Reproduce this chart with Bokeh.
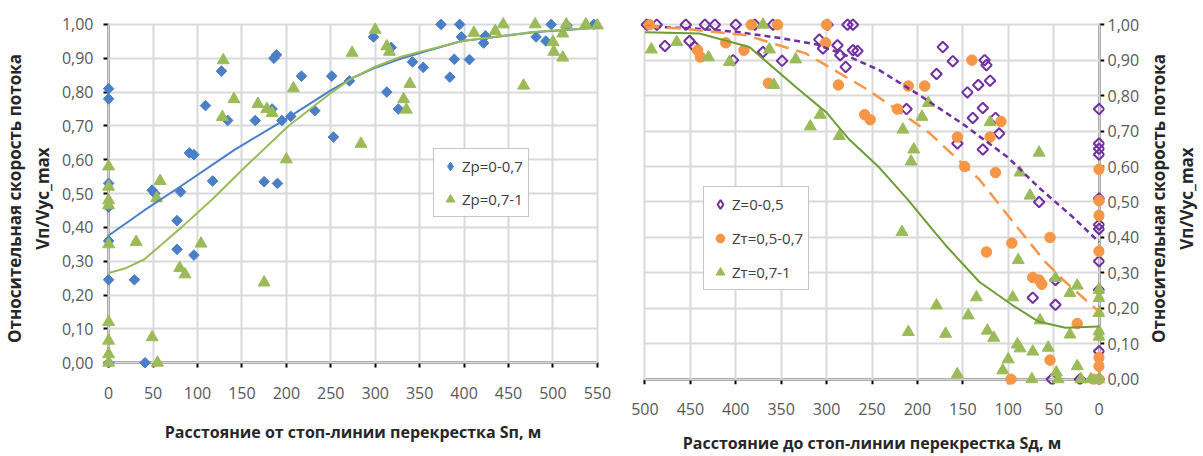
import math
import numpy as np
from bokeh.plotting import figure
from bokeh.models import (Range1d, FixedTicker, CustomJSTickFormatter, Legend, LegendItem,
                          LinearAxis, ColumnDataSource)
from bokeh.layouts import row
from bokeh.embed import file_html
from bokeh.resources import INLINE

# ---------------- data: left chart (distance from stop line, Sп) ----------------
x_ticks_left = [0, 50, 100, 150, 200, 250, 300, 350, 400, 450, 500, 550]
x_ticks_right = [0, 50, 100, 150, 200, 250, 300, 350, 400, 450, 500]
y_ticks = [0.0, 0.1, 0.2, 0.3, 0.4, 0.5, 0.6, 0.7, 0.8, 0.9, 1.0]

blue_label = "Zp=0-0,7"
blue_x = [0, 0, 0, 0, 0, 0, 0, 29, 41, 49, 52, 77, 77, 81, 91, 96, 96,
          109, 117, 127, 134, 165, 175, 190, 186, 189, 184,
          195, 205, 217, 232, 251, 253, 271, 298, 318, 313,
          326, 342, 354, 374, 395, 397, 389, 406, 384, 422,
          424, 481, 492, 498, 516, 546]
blue_y = [0.81, 0.78, 0.53, 0.46, 0.36, 0.245, 0.0,
          0.245, 0.0, 0.51, 0.50, 0.42, 0.335, 0.505, 0.62, 0.615, 0.318,
          0.76, 0.537, 0.862, 0.716, 0.716, 0.535, 0.53, 0.90, 0.91, 0.75,
          0.716, 0.728, 0.847, 0.745, 0.847, 0.667, 0.833, 0.963, 0.932, 0.80,
          0.75, 0.889, 0.873, 1.0, 1.0, 0.963, 0.897, 0.896, 0.844, 0.945,
          0.966, 0.963, 0.951, 1.0, 0.997, 1.0]

greenL_label = "Zp=0,7-1"
greenL_x = [0, 0, 0, 0, 0, 0, 0, 0, 0,
            31, 49, 55, 54, 58, 80, 86, 104, 128, 129,
            141, 168, 175, 178, 184, 200, 208, 274, 284, 300,
            313, 316, 332, 335, 339, 411, 435, 444, 467, 480,
            500, 501, 511, 511, 515, 537, 550]
greenL_y = [0.58, 0.52, 0.48, 0.465, 0.35, 0.12, 0.065, 0.025, 0.0,
            0.357, 0.075, 0.0, 0.486, 0.537, 0.28, 0.261, 0.352, 0.726, 0.894,
            0.779, 0.765, 0.237, 0.75, 0.738, 0.601, 0.811, 0.916, 0.647, 0.984,
            0.935, 0.919, 0.779, 0.748, 0.824, 0.975, 0.98, 1.0, 0.819, 1.0,
            0.948, 0.919, 0.973, 0.902, 1.0, 1.0, 0.997]

# trend lines
blue_trend_x = [0, 40, 82, 142, 198, 250, 273, 300, 330, 396, 478, 550]
blue_trend_y = [0.376, 0.45, 0.523, 0.63, 0.718, 0.805, 0.84, 0.872, 0.90, 0.95, 0.977, 0.99]
greenL_trend_x = [0, 20, 40, 60, 82, 117, 151, 202, 250, 273, 300, 330, 400, 480, 550]
greenL_trend_y = [0.265, 0.28, 0.305, 0.35, 0.40, 0.484, 0.572, 0.699, 0.797, 0.84, 0.875, 0.905, 0.952, 0.978, 0.99]

# ---------------- data: right chart (distance to stop line, Sд) ----------------
purple_label = "Z=0-0,5"
purple_x = [498, 487, 455, 434, 423, 400, 379, 359, 299, 277, 271,
            478, 451, 445, 403, 370, 349, 308, 304, 288, 285,
            279, 271, 266, 172, 161, 179, 212, 156, 145, 133,
            126, 124, 120, 139, 128, 114, 110, 128, 66, 73,
            48, 48, 52, 21,
            0, 0, 0, 0, 0, 0, 0, 0, 0, 0, 0]
purple_y = [1, 1, 1, 1, 1, 1, 1, 1, 1, 1, 1,
            0.94, 0.954, 0.937, 0.90, 0.923, 0.898, 0.958, 0.933, 0.942, 0.914,
            0.881, 0.928, 0.926, 0.937, 0.897, 0.861, 0.762, 0.665, 0.809, 0.83,
            0.90, 0.886, 0.842, 0.737, 0.765, 0.737, 0.693, 0.648, 0.50, 0.23,
            0.21, 0.28, 0.0, 0.0,
            0.762, 0.665, 0.65, 0.634, 0.51, 0.436, 0.424, 0.333, 0.252, 0.079, 0.0]

orange_label = "Zт=0,5-0,7"
orange_x = [495, 383, 354, 300,
            442, 439, 411, 391, 364, 301, 287, 258, 252, 222,
            210, 192, 140, 156, 148, 120, 108, 114, 54, 96,
            124, 73, 66, 63, 24, 54, 97, 6,
            0, 0, 0, 0, 0, 0, 0]
orange_y = [1, 1, 1, 1,
            0.928, 0.909, 0.949, 0.928, 0.835, 0.949, 0.83, 0.746, 0.732, 0.762,
            0.827, 0.827, 0.90, 0.683, 0.60, 0.683, 0.727, 0.583, 0.40, 0.384,
            0.359, 0.287, 0.28, 0.268, 0.157, 0.054, 0.0, 0.0,
            0.592, 0.504, 0.462, 0.361, 0.061, 0.037, 0.0]

greenR_label = "Zт=0,7-1"
greenR_x = [493, 465, 430, 407, 370, 363, 358, 334, 307, 318,
            286, 188, 195, 216, 204, 207, 120, 87, 66, 76,
            217, 89, 179, 210, 169, 135, 144, 95, 123, 116,
            65, 90, 87, 73, 56, 100, 106, 156, 74, 47,
            45, 24, 20, 9, 32, 24, 48, 32,
            0, 0, 0, 0, 0, 0]
greenR_y = [0.93, 0.951, 0.908, 0.895, 1.0, 0.93, 0.83, 0.902, 0.746, 0.713,
            0.686, 0.779, 0.74, 0.704, 0.648, 0.614, 0.725, 0.583, 0.639, 0.518,
            0.415, 0.336, 0.208, 0.133, 0.128, 0.231, 0.18, 0.231, 0.137, 0.117,
            0.166, 0.098, 0.087, 0.078, 0.089, 0.056, 0.025, 0.014, 0.0, 0.019,
            0.0, 0.037, 0.0, 0.0, 0.243, 0.264, 0.285, 0.126,
            0.252, 0.229, 0.187, 0.135, 0.12, 0.0]

purple_trend_x = [500, 450, 400, 350, 312, 280, 242, 200, 150, 100, 66, 30, 0]
purple_trend_y = [0.995, 0.99, 0.98, 0.962, 0.945, 0.915, 0.872, 0.805, 0.72, 0.625, 0.54, 0.46, 0.387]
orange_trend_x = [500, 458, 388, 323, 257, 228, 187, 132, 88.5, 59.3, 37.3, 0]
orange_trend_y = [0.995, 0.989, 0.97, 0.919, 0.82, 0.77, 0.695, 0.564, 0.424, 0.331, 0.275, 0.19]
greenR_trend_x = [500, 440, 385, 330, 300, 275, 242, 211, 184, 169, 132, 96, 67, 37, 0]
greenR_trend_y = [0.979, 0.975, 0.937, 0.816, 0.752, 0.676, 0.597, 0.508, 0.424, 0.378, 0.275, 0.21, 0.163, 0.145, 0.149]

y_title = "Относительная скорость потока\nVп/Vус_max"
x_title_left = "Расстояние от стоп-линии перекрестка Sп, м"
x_title_right = "Расстояние до стоп-линии перекрестка Sд, м"

# ---------------- styling ----------------
FONT = "Open Sans"
TICK_C = "#595959"
TITLE_C = "#262626"
GRID_C = "#d9d9d9"
BLUE = "#4a7fc8"
GREEN = "#9bbb59"
GREEN_DARK = "#6e9c35"
ORANGE = "#f79646"
PURPLE = "#7030a0"
XPAD_L = 8
XPAD_R = 6
# both frames share top (12px) and bottom (387px); ranges chosen so the axes sit where the reference has them
YR_LEFT = (-0.0645, 1.0352)
YR_RIGHT = (-0.0148, 1.0344)

fmt = CustomJSTickFormatter(code="return tick.toFixed(2).replace('.', ',');")
blank = CustomJSTickFormatter(code="return '';")


def title_props(ax, title, standoff, size):
    ax.axis_label = title
    ax.axis_label_standoff = standoff
    ax.axis_label_text_font = FONT
    ax.axis_label_text_font_size = size
    ax.axis_label_text_font_style = "bold"
    ax.axis_label_text_color = TITLE_C


def label_axis(ax, standoff, title=None, title_standoff=0, title_size="16px"):
    # side axis: only tick labels (and the title)
    ax.axis_line_color = None
    ax.major_tick_line_color = None
    ax.minor_tick_line_color = None
    ax.major_tick_out = 0
    ax.major_tick_in = 0
    ax.major_label_standoff = standoff
    ax.major_label_text_font = FONT
    ax.major_label_text_font_size = "16px"
    ax.major_label_text_color = TICK_C
    if title is not None:
        title_props(ax, title, title_standoff, title_size)


def line_axis(ticks, bounds):
    # axis line drawn through the data origin; ticks point outward, takes no panel space
    return LinearAxis(fixed_location=0, bounds=bounds, ticker=FixedTicker(ticks=ticks),
                      formatter=blank, major_label_text_font_size="0px",
                      major_label_standoff=0,
                      axis_line_color="black", axis_line_width=2,
                      major_tick_line_color="black", major_tick_line_width=2,
                      major_tick_out=0, major_tick_in=-5, minor_tick_line_color=None,
                      level="underlay")


def setup(p, xticks, xbounds):
    p.outline_line_color = None
    p.background_fill_color = "white"
    p.border_fill_color = "white"
    xa = p.xaxis[0]
    ya = p.yaxis[0]
    xa.ticker = FixedTicker(ticks=xticks)
    ya.ticker = FixedTicker(ticks=y_ticks)
    ya.formatter = fmt
    p.xgrid.ticker = FixedTicker(ticks=xticks)
    p.ygrid.ticker = FixedTicker(ticks=y_ticks)
    p.xgrid[0].bounds = xbounds
    p.ygrid[0].bounds = (0, 1)
    for g in (p.xgrid[0], p.ygrid[0]):
        g.grid_line_color = GRID_C
        g.grid_line_width = 2
    try:
        p.xgrid[0].cross_bounds = (0, 1)
        p.ygrid[0].cross_bounds = xbounds
    except AttributeError:
        pass
    return xa, ya


def make_legend(items, loc, spacing):
    leg = Legend(items=items, location=loc)
    leg.label_text_font = FONT
    leg.label_text_font_size = "15px"
    leg.label_text_color = "#404040"
    leg.glyph_width = 22
    leg.glyph_height = 24
    leg.label_height = 24
    leg.label_standoff = 1
    leg.spacing = spacing
    leg.padding = 5
    leg.margin = 0
    leg.border_line_color = "#8c8c8c"
    leg.border_line_width = 1
    leg.background_fill_color = "white"
    leg.background_fill_alpha = 1.0
    return leg


def proxy(p, **kw):
    # legend-only glyph: a point without coordinates, never drawn on the plot
    src = ColumnDataSource(dict(x=np.array([np.nan]), y=np.array([np.nan])))
    return p.scatter("x", "y", source=src, **kw)


# ---------------- left chart ----------------
p1 = figure(width=620, height=456,
            x_range=Range1d(-XPAD_L, 550 + XPAD_L), y_range=Range1d(*YR_LEFT),
            output_backend="svg", toolbar_location=None,
            min_border_left=100, min_border_right=16,
            min_border_top=12, min_border_bottom=69)
xa1, ya1 = setup(p1, x_ticks_left, (0, 550))
label_axis(xa1, 2, x_title_left, 19, "16px")
label_axis(ya1, 8, y_title, 5, "17px")
p1.add_layout(line_axis(x_ticks_left, (0, 550)), "below")
p1.add_layout(line_axis(y_ticks, (0, 1)), "left")

p1.scatter(blue_x, blue_y, marker="square", angle=math.pi / 4, size=7.5,
           fill_color=BLUE, line_color=BLUE)
p1.scatter(greenL_x, greenL_y, marker="triangle", size=12,
           fill_color=GREEN, line_color=GREEN)
p1.line(blue_trend_x, blue_trend_y, line_color=BLUE, line_width=2)
p1.line(greenL_trend_x, greenL_trend_y, line_color=GREEN, line_width=2)

lb = proxy(p1, marker="diamond", fill_color=BLUE, line_color=BLUE)
lg = proxy(p1, marker="triangle", fill_color=GREEN, line_color=GREEN)
p1.add_layout(make_legend([LegendItem(label=blue_label, renderers=[lb]),
                           LegendItem(label=greenL_label, renderers=[lg])],
                          (332, 167), 9))

# ---------------- right chart ----------------
p2 = figure(width=522, height=456,
            x_range=Range1d(500 + XPAD_R, -XPAD_R), y_range=Range1d(*YR_RIGHT),
            y_axis_location="right",
            output_backend="svg", toolbar_location=None,
            min_border_left=19, min_border_right=36,
            min_border_top=12, min_border_bottom=69)
xa2, ya2 = setup(p2, x_ticks_right, (0, 500))
label_axis(xa2, 18, x_title_right, 14, "16px")
label_axis(ya2, 3)
p2.add_layout(line_axis(x_ticks_right, (0, 500)), "below")
p2.add_layout(line_axis(y_ticks, (0, 1)), "right")

p2.scatter(purple_x, purple_y, marker="square", angle=math.pi / 4, size=7.5,
           fill_alpha=0, line_color=PURPLE, line_width=2)
p2.scatter(orange_x, orange_y, marker="circle", size=10.5,
           fill_color=ORANGE, line_color=ORANGE)
p2.scatter(greenR_x, greenR_y, marker="triangle", size=12,
           fill_color=GREEN, line_color=GREEN)
p2.line(purple_trend_x, purple_trend_y, line_color=PURPLE, line_width=2.5, line_dash="6 4")
p2.line(orange_trend_x, orange_trend_y, line_color=ORANGE, line_width=2.5, line_dash="14 8")
p2.line(greenR_trend_x, greenR_trend_y, line_color=GREEN_DARK, line_width=2)

lp = proxy(p2, marker="diamond", fill_alpha=0, line_color=PURPLE, line_width=2)
lo = proxy(p2, marker="circle", fill_color=ORANGE, line_color=ORANGE)
lgr = proxy(p2, marker="triangle", fill_color=GREEN, line_color=GREEN)
p2.add_layout(make_legend([LegendItem(label=purple_label, renderers=[lp]),
                           LegendItem(label=orange_label, renderers=[lo]),
                           LegendItem(label=greenR_label, renderers=[lgr])],
                          (64, 94), 10))

# ---------------- right chart's y title (narrow strip so it reads bottom-to-top) ----------------
p3 = figure(width=61, height=456, x_range=Range1d(0, 1), y_range=Range1d(0, 1),
            x_axis_location=None, output_backend="svg", toolbar_location=None,
            min_border_left=59, min_border_right=0,
            min_border_top=12, min_border_bottom=69)
p3.outline_line_color = None
p3.grid.visible = False
ya3 = p3.yaxis[0]
ya3.axis_line_color = None
ya3.major_tick_line_color = None
ya3.minor_tick_line_color = None
ya3.major_tick_out = 0
ya3.major_tick_in = 0
ya3.major_label_standoff = 0
ya3.formatter = blank
ya3.major_label_text_font_size = "0px"
title_props(ya3, y_title, 0, "17px")

layout = row(p1, p2, p3)
open("out.html", "w").write(file_html(layout, INLINE))
